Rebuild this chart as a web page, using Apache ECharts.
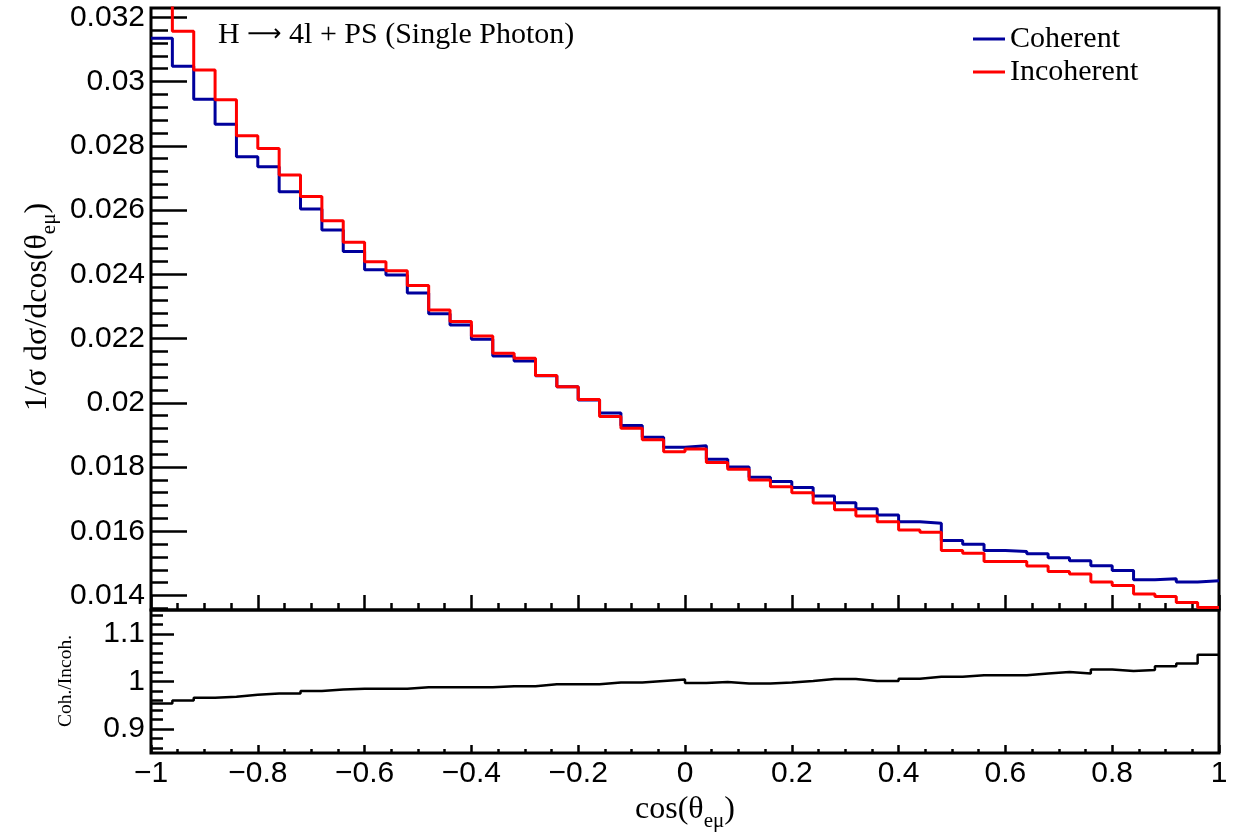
<!DOCTYPE html>
<html><head><meta charset="utf-8">
<script src="https://cdn.jsdelivr.net/npm/echarts@6/dist/echarts.min.js"></script>
<style>html,body{margin:0;padding:0;background:#fff}#c{width:1245px;height:834px}</style>
</head><body><div id="c"></div>
<script>
const X_MIN = -1, X_MAX = 1;
const coherent = [0.03135, 0.03048, 0.02945, 0.02867, 0.02766, 0.02735, 0.02657, 0.02603, 0.02538, 0.02471,
  0.02414, 0.02398, 0.02342, 0.02277, 0.02242, 0.02198, 0.02146, 0.02130, 0.02084, 0.02050,
  0.02009, 0.01968, 0.01929, 0.01893, 0.01862, 0.01866, 0.01824, 0.01800, 0.01768, 0.01755,
  0.01736, 0.01710, 0.01689, 0.01670, 0.01651, 0.01630, 0.01625, 0.01571, 0.01560, 0.01540,
  0.01537, 0.01530, 0.01518, 0.01508, 0.01493, 0.01478, 0.01449, 0.01452, 0.01442, 0.01446];
const incoherent = [0.03280, 0.03157, 0.03036, 0.02943, 0.02831, 0.02792, 0.02709, 0.02642, 0.02567, 0.02500,
  0.02439, 0.02411, 0.02365, 0.02289, 0.02253, 0.02208, 0.02154, 0.02139, 0.02085, 0.02050,
  0.02010, 0.01957, 0.01921, 0.01885, 0.01848, 0.01856, 0.01814, 0.01793, 0.01760, 0.01739,
  0.01720, 0.01688, 0.01667, 0.01648, 0.01630, 0.01604, 0.01597, 0.01540, 0.01532, 0.01506,
  0.01506, 0.01492, 0.01475, 0.01467, 0.01442, 0.01431, 0.01405, 0.01397, 0.01378, 0.01363];
const ratio = [0.954, 0.960, 0.966, 0.968, 0.972, 0.975, 0.975, 0.980, 0.983, 0.985,
  0.985, 0.985, 0.988, 0.988, 0.988, 0.988, 0.990, 0.990, 0.994, 0.994,
  0.994, 0.998, 0.998, 1.001, 1.004, 0.997, 0.999, 0.996, 0.996, 0.998,
  1.001, 1.005, 1.005, 1.001, 1.001, 1.006, 1.010, 1.010, 1.013, 1.013,
  1.013, 1.017, 1.020, 1.017, 1.025, 1.022, 1.024, 1.032, 1.038, 1.056];
const xTickLabels = [-1, -0.8, -0.6, -0.4, -0.2, 0, 0.2, 0.4, 0.6, 0.8, 1];
const yTopTickLabels = [0.014, 0.016, 0.018, 0.02, 0.022, 0.024, 0.026, 0.028, 0.03, 0.032];
const yRatioTickLabels = [0.9, 1, 1.1];
const seriesNames = ['Coherent', 'Incoherent'];

function stepData(vals) {
  const w = (X_MAX - X_MIN) / vals.length;
  const d = vals.map((v, i) => [X_MIN + i * w, v]);
  d.push([X_MAX, vals[vals.length - 1]]);
  return d;
}
function range(a, b, n) { const r = []; for (let i = 0; i <= n; i++) r.push(+(a + (b - a) * i / n).toFixed(6)); return r; }
const xMinor = range(-1, 1, 40);
const yTopMinor = range(0.0136, 0.0320, 46);
const yRatioMinor = range(0.86, 1.14, 14);
const fmt = v => String(+v.toFixed(4)).replace('-', '\u2212');

const TOP = {min: 0.01355, max: 0.03229};
const BOT = {min: 0.85, max: 1.15};
const tickStyle = {color: '#000', width: 2.5};
const sans = 'Liberation Sans';
const serif = 'Liberation Serif';

function xAx(grid, vals, len, labels) {
  return {gridIndex: grid, type: 'value', min: X_MIN, max: X_MAX, position: 'bottom', axisLine: {show: false, onZero: false},
    splitLine: {show: false},
    axisTick: {show: true, inside: true, length: len, customValues: vals, lineStyle: tickStyle},
    axisLabel: labels ? {show: true, customValues: vals, formatter: fmt, margin: 6, fontFamily: sans, fontSize: 30, color: '#000'} : {show: false}};
}
function yAx(grid, r, vals, len, labels) {
  return {gridIndex: grid, type: 'value', min: r.min, max: r.max, position: 'left', axisLine: {show: false, onZero: false},
    splitLine: {show: false},
    axisTick: {show: true, inside: true, length: len, customValues: vals, lineStyle: tickStyle},
    axisLabel: labels ? {show: true, customValues: vals, formatter: fmt, margin: 6, fontFamily: sans, fontSize: 30, color: '#000'} : {show: false}};
}

const chart = echarts.init(document.getElementById('c'), null, {renderer: 'canvas'});
chart.setOption({
  animation: false,
  backgroundColor: '#fff',
  grid: [
    {left: 151, top: 8, width: 1068, height: 602, show: true, borderWidth: 3, borderColor: '#000', containLabel: false},
    {left: 151, top: 610, width: 1068, height: 143, show: true, borderWidth: 3, borderColor: '#000', containLabel: false}
  ],
  xAxis: [
    xAx(0, xTickLabels, 15, false),
    xAx(0, xMinor, 7, false),
    xAx(1, xTickLabels, 8, true),
    xAx(1, xMinor, 4, false)
  ],
  yAxis: [
    yAx(0, TOP, yTopTickLabels, 36, true),
    yAx(0, TOP, yTopMinor, 17, false),
    yAx(1, BOT, yRatioTickLabels, 23, true),
    yAx(1, BOT, yRatioMinor, 12, false)
  ],
  legend: {
    orient: 'vertical', left: 968, top: 19, itemWidth: 32, itemHeight: 3, icon: 'rect', itemGap: 3,
    data: seriesNames,
    textStyle: {fontFamily: serif, fontSize: 30, color: '#000', lineHeight: 30}
  },
  series: [
    {name: seriesNames[0], type: 'line', xAxisIndex: 0, yAxisIndex: 0, data: stepData(coherent), step: 'end',
      symbol: 'none', clip: true, lineStyle: {color: '#00009c', width: 3}, itemStyle: {color: '#00009c'}},
    {name: seriesNames[1], type: 'line', xAxisIndex: 0, yAxisIndex: 0, data: stepData(incoherent), step: 'end',
      symbol: 'none', clip: true, lineStyle: {color: '#ff0000', width: 3}, itemStyle: {color: '#ff0000'}},
    {name: 'ratio', type: 'line', xAxisIndex: 2, yAxisIndex: 2, data: stepData(ratio), step: 'end',
      symbol: 'none', clip: true, lineStyle: {color: '#000', width: 2.5}, itemStyle: {color: '#000'}}
  ],
  graphic: [
    {type: 'text', x: 218, y: 35, style: {
      text: '{a|H }{r|\u27f6}{a| 4l + PS (Single Photon)}', align: 'left', verticalAlign: 'middle',
      rich: {a: {fontFamily: serif, fontSize: 30, lineHeight: 36, verticalAlign: 'middle', fill: '#000'},
             r: {fontFamily: 'DejaVu Sans', fontSize: 24, lineHeight: 36, verticalAlign: 'middle', fill: '#000'}}}},
    {type: 'text', x: 38, y: 307, rotation: Math.PI / 2, style: {
      text: '{a|1/\u03c3 d\u03c3/dcos(\u03b8}{s|e\u03bc}{a|)}', align: 'center', verticalAlign: 'middle',
      rich: {a: {fontFamily: serif, fontSize: 32, lineHeight: 44, verticalAlign: 'middle', fill: '#000'},
             s: {fontFamily: serif, fontSize: 21, lineHeight: 21, verticalAlign: 'bottom', fill: '#000'}}}},
    {type: 'text', x: 66, y: 681, rotation: Math.PI / 2, style: {text: 'Coh./Incoh.', fontFamily: serif, fontSize: 19.5, fill: '#000', align: 'center', verticalAlign: 'middle'}},
    {type: 'text', x: 685, y: 810, style: {
      text: '{a|cos(\u03b8}{s|e\u03bc}{a|)}', align: 'center', verticalAlign: 'middle',
      rich: {a: {fontFamily: serif, fontSize: 32, lineHeight: 44, verticalAlign: 'middle', fill: '#000'},
             s: {fontFamily: serif, fontSize: 21, lineHeight: 21, verticalAlign: 'bottom', fill: '#000'}}}}
  ]
});
</script></body></html>
